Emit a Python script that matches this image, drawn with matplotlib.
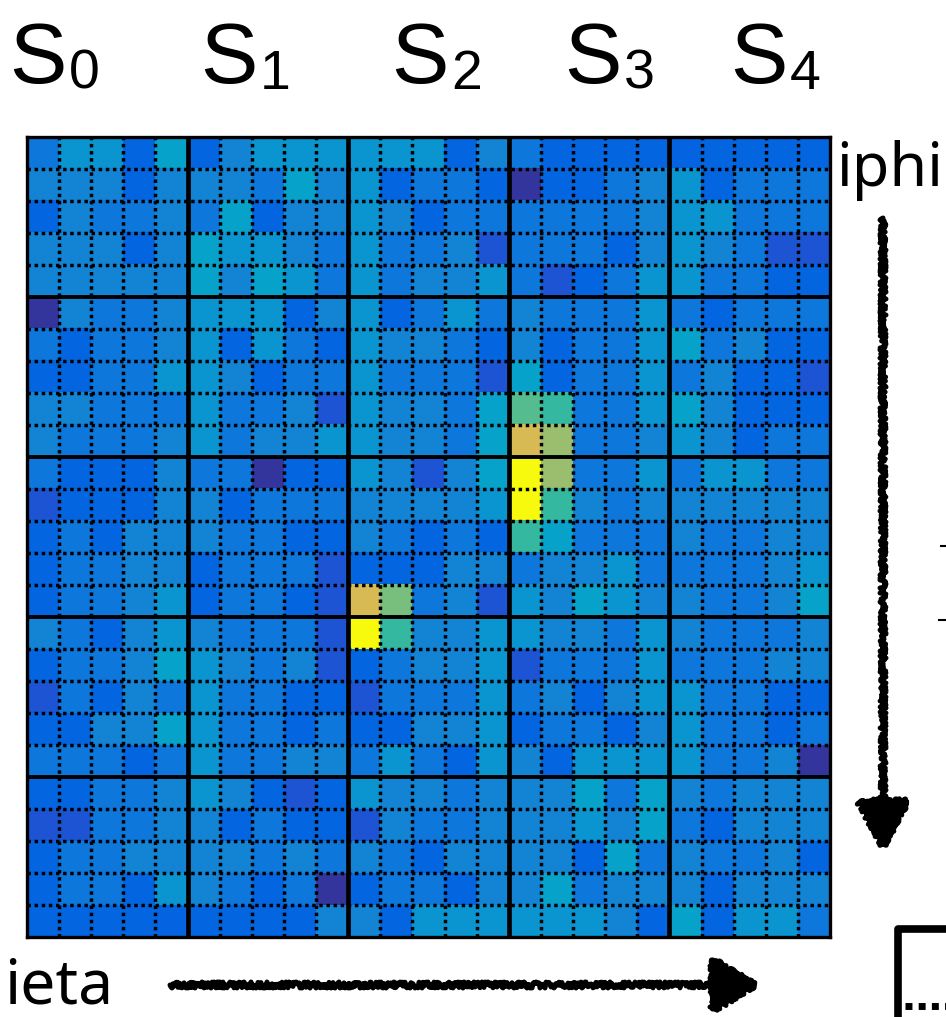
import matplotlib
matplotlib.use("Agg")
import matplotlib.pyplot as plt
from matplotlib import font_manager as fm
from matplotlib.colors import LinearSegmentedColormap
from matplotlib.patches import FancyArrowPatch
from matplotlib.lines import Line2D
import numpy as np

W, H = 946, 1017

# tower energies, 0-100 scale (row 0 = top)
energy = [
    [20, 31, 31, 14, 36, 14, 25, 31, 31, 31, 31, 31, 31, 14, 25, 20, 14, 14, 14, 14, 13, 14, 14, 14, 14],
    [25, 25, 25, 14, 25, 25, 25, 20, 36, 25, 31, 14, 20, 20, 14, 3, 14, 14, 20, 25, 31, 14, 20, 20, 20],
    [14, 25, 20, 20, 25, 20, 36, 14, 25, 25, 31, 25, 14, 20, 20, 20, 20, 20, 20, 25, 31, 31, 20, 20, 20],
    [25, 25, 25, 14, 25, 36, 31, 31, 25, 20, 31, 20, 20, 25, 10, 20, 20, 20, 14, 25, 31, 25, 20, 10, 10],
    [25, 25, 25, 25, 25, 36, 25, 36, 31, 20, 31, 20, 25, 25, 31, 20, 10, 14, 20, 31, 31, 20, 20, 14, 14],
    [3, 25, 20, 20, 25, 31, 31, 31, 14, 25, 31, 14, 20, 31, 20, 25, 20, 20, 20, 31, 20, 14, 20, 20, 20],
    [20, 14, 20, 20, 25, 31, 14, 31, 20, 14, 31, 25, 25, 20, 14, 25, 14, 20, 20, 31, 36, 20, 25, 14, 14],
    [14, 14, 20, 20, 31, 31, 25, 14, 20, 20, 31, 20, 20, 20, 10, 36, 14, 20, 20, 31, 20, 25, 14, 14, 10],
    [25, 25, 20, 20, 20, 31, 20, 20, 25, 10, 31, 25, 25, 20, 36, 55, 50, 20, 20, 31, 36, 25, 14, 14, 14],
    [25, 20, 20, 20, 25, 31, 20, 25, 25, 31, 31, 25, 25, 20, 36, 76, 65, 20, 20, 25, 31, 25, 14, 20, 20],
    [20, 14, 14, 14, 25, 20, 20, 3, 14, 14, 31, 25, 10, 25, 36, 100, 65, 20, 20, 31, 20, 31, 31, 20, 20],
    [10, 14, 14, 14, 25, 25, 14, 20, 20, 20, 25, 25, 25, 25, 31, 100, 50, 25, 20, 25, 25, 25, 25, 25, 25],
    [14, 20, 14, 25, 25, 25, 20, 20, 14, 14, 25, 20, 14, 20, 14, 50, 36, 20, 20, 20, 25, 20, 20, 25, 25],
    [14, 20, 20, 25, 25, 14, 20, 20, 20, 10, 14, 14, 14, 25, 25, 20, 25, 25, 31, 20, 20, 20, 20, 25, 31],
    [14, 20, 20, 25, 31, 14, 20, 20, 14, 10, 76, 60, 20, 25, 10, 31, 25, 36, 31, 25, 25, 20, 20, 25, 36],
    [25, 20, 14, 25, 31, 25, 20, 20, 20, 10, 100, 50, 25, 25, 31, 31, 25, 25, 20, 31, 25, 20, 20, 20, 25],
    [14, 20, 20, 25, 36, 31, 25, 20, 25, 10, 14, 20, 25, 25, 31, 10, 20, 20, 20, 31, 20, 20, 20, 25, 25],
    [10, 20, 14, 25, 20, 31, 20, 20, 14, 14, 10, 20, 20, 20, 31, 20, 25, 14, 25, 31, 31, 20, 20, 14, 14],
    [14, 14, 25, 25, 36, 31, 20, 20, 14, 20, 14, 14, 25, 25, 31, 14, 20, 20, 14, 25, 31, 20, 20, 14, 20],
    [20, 20, 20, 14, 20, 31, 20, 20, 25, 25, 20, 31, 20, 14, 31, 25, 14, 31, 31, 31, 31, 20, 20, 25, 3],
    [14, 14, 20, 20, 25, 31, 25, 14, 10, 14, 31, 25, 25, 20, 25, 25, 25, 36, 20, 36, 25, 20, 25, 25, 25],
    [10, 10, 20, 20, 25, 25, 14, 20, 14, 14, 10, 25, 20, 20, 25, 25, 25, 31, 25, 36, 20, 14, 25, 25, 25],
    [14, 20, 20, 25, 25, 25, 25, 20, 25, 20, 25, 20, 14, 25, 25, 25, 25, 14, 36, 20, 25, 20, 20, 25, 14],
    [14, 20, 20, 14, 31, 25, 20, 14, 20, 3, 14, 20, 20, 14, 25, 25, 36, 20, 25, 25, 25, 14, 25, 25, 25],
    [14, 14, 14, 14, 13, 14, 14, 14, 14, 25, 25, 14, 31, 31, 31, 31, 31, 31, 25, 14, 36, 14, 31, 31, 20],
]
sectors = [0, 1, 2, 3, 4]
block = 5

# parula-like colour map
parula_colors = [
    (0.2081, 0.1663, 0.5292), (0.1959, 0.2645, 0.7279), (0.1253, 0.3242, 0.8303),
    (0.0117, 0.3875, 0.8820), (0.0498, 0.4586, 0.8641), (0.0793, 0.5200, 0.8312),
    (0.0343, 0.5966, 0.8199), (0.0228, 0.6535, 0.7768), (0.0843, 0.6928, 0.7062),
    (0.2178, 0.7250, 0.6193), (0.3953, 0.7459, 0.5244), (0.5709, 0.7485, 0.4494),
    (0.7184, 0.7411, 0.3905), (0.8507, 0.7299, 0.3360), (0.9739, 0.7314, 0.2666),
    (0.9880, 0.8066, 0.1794), (0.9589, 0.8949, 0.1132), (0.9763, 0.9831, 0.0538),
]
parula_idx = [0, 4, 6, 8, 12, 16, 20, 24, 28, 32, 36, 40, 44, 48, 52, 56, 60, 63]
parula = LinearSegmentedColormap.from_list(
    "parula", [(i / 63, c) for i, c in zip(parula_idx, parula_colors)])


def fx(x):
    return x / W


def fy(y):
    return 1 - y / H


fig = plt.figure(figsize=(W / 100, H / 100), dpi=100)

ax = fig.add_axes([fx(27), fy(937), (830 - 27) / W, (937 - 137) / H])
data = np.array(energy)
n = data.shape[0]
ax.imshow(data, cmap=parula, vmin=0, vmax=100, extent=(0, n, n, 0),
          interpolation="nearest", aspect="auto")

for k in range(1, n):
    if k % block == 0:
        ax.axvline(k, color="black", lw=3.4)
        ax.axhline(k, color="black", lw=2.8)
    else:
        ax.axvline(k, color="black", lw=2.5, ls=(0, (1, 1.05)))
        ax.axhline(k, color="black", lw=2.5, ls=(0, (1, 1.05)))
ax.set_xlim(0, n)
ax.set_ylim(n, 0)
ax.set_xticks([])
ax.set_yticks([])
for sp in ax.spines.values():
    sp.set_linewidth(2.4)

# sector labels (narrow Helvetica-like if available)
names = {f.name for f in fm.fontManager.ttflist}
if "Liberation Sans Narrow" in names:
    narrow, s_size, sub_dx = "Liberation Sans Narrow", 70, 55
else:
    narrow, s_size, sub_dx = "Liberation Sans", 62, 60
label_x = [9, 200, 391, 564, 730]
for s, x in zip(sectors, label_x):
    fig.text(fx(x), fy(83), "S", fontsize=s_size, family=narrow, va="baseline")
    fig.text(fx(x + sub_dx), fy(89), str(s), fontsize=40, family=narrow, va="baseline")

# axis names
fig.text(fx(836), fy(186), "iphi", fontsize=44, family="Noto Sans", va="baseline")
fig.text(fx(4), fy(1004), "ieta", fontsize=45, family="Noto Sans", va="baseline")

# hand drawn arrows
arr_v = FancyArrowPatch((fx(883), fy(218)), (fx(883), fy(850)), transform=fig.transFigure,
                        arrowstyle="-|>,head_length=31,head_width=17", mutation_scale=1,
                        lw=3.6, color="black", shrinkA=0, shrinkB=0)
arr_v.set_sketch_params(scale=3, length=3, randomness=3)
fig.add_artist(arr_v)

arr_h = FancyArrowPatch((fx(170), fy(985)), (fx(758), fy(985)), transform=fig.transFigure,
                        arrowstyle="-|>,head_length=29,head_width=18", mutation_scale=1,
                        lw=3.6, color="black", shrinkA=0, shrinkB=0)
arr_h.set_sketch_params(scale=3, length=3, randomness=3)
fig.add_artist(arr_h)

# cut-off panel in the bottom right corner
fig.add_artist(Line2D([fx(898), fx(898), fx(946)], [fy(1017), fy(929), fy(929)],
                      lw=5.5, color="black", transform=fig.transFigure))
fig.add_artist(Line2D([fx(905), fx(946)], [fy(1006), fy(1006)], lw=5, color="black",
                      ls=(0, (1, 0.9)), transform=fig.transFigure))
fig.add_artist(Line2D([fx(941), fx(946)], [fy(546), fy(546)], lw=1.5, color="black",
                      transform=fig.transFigure))
fig.add_artist(Line2D([fx(939), fx(946)], [fy(620), fy(620)], lw=1.5, color="black",
                      transform=fig.transFigure))

fig.savefig("out.png", dpi=100)
